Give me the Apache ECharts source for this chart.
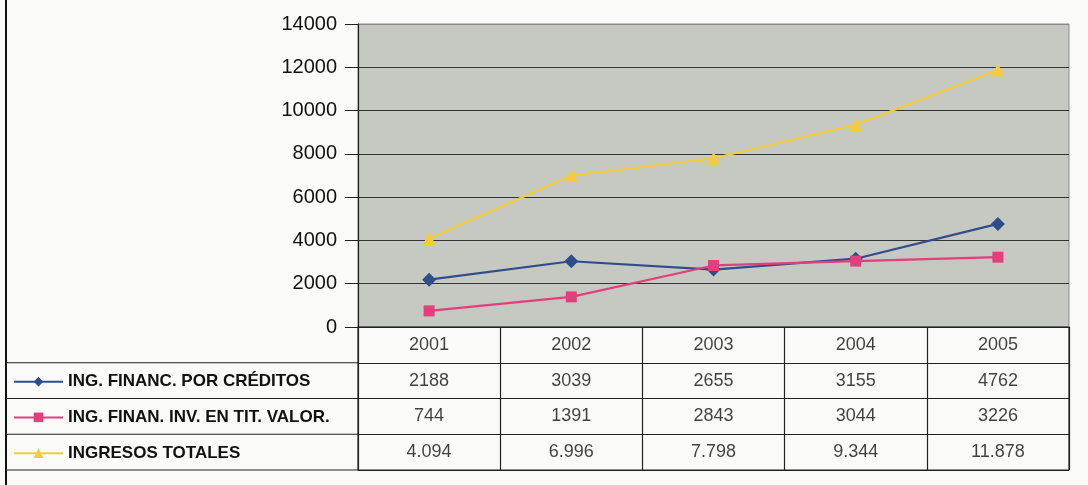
<!DOCTYPE html>
<html>
<head>
<meta charset="utf-8">
<script src="https://cdn.jsdelivr.net/npm/echarts@6/dist/echarts.min.js"></script>
<style>
html,body{margin:0;padding:0;background:#fafaf8;}
#chart{width:1088px;height:485px;}
</style>
</head>
<body>
<div id="chart"></div>
<script>
var years = ['2001', '2002', '2003', '2004', '2005'];
var seriesNames = ['ING. FINANC. POR CRÉDITOS', 'ING. FINAN. INV. EN TIT. VALOR.', 'INGRESOS TOTALES'];
var creditos = [2188, 3039, 2655, 3155, 4762];
var inversiones = [744, 1391, 2843, 3044, 3226];
var totales = [4094, 6996, 7798, 9344, 11878];
var yTicks = [0, 2000, 4000, 6000, 8000, 10000, 12000, 14000];
var tableRows = ['year', 'creditos', 'inversiones', 'totales'];

var FONT = 'Arial, "Liberation Sans", sans-serif';
var colors = ['#2f4d8c', '#e23f7c', '#f3cb3c'];

function fmtDot(v) {
  return String(v).replace(/\B(?=(\d{3})+(?!\d))/g, '.');
}

var rowValues = [years, creditos.map(String), inversiones.map(String), totales.map(fmtDot)];

var tableSeries = rowValues.map(function (vals, r) {
  return {
    name: 'tabla_' + tableRows[r],
    type: 'scatter',
    xAxisIndex: 1,
    yAxisIndex: 1,
    symbolSize: 0,
    silent: true,
    data: vals.map(function (v, i) { return [years[i], tableRows[r], v]; }),
    label: {
      show: true,
      position: 'inside',
      fontFamily: FONT,
      fontSize: 18,
      color: '#111',
      formatter: function (p) { return p.data[2]; }
    }
  };
});

// legend rows: one legend per table row, centred in the row
var rowTop = 327, rowH = 143 / 4;
var legends = seriesNames.map(function (n, i) {
  return {
    data: [n],
    orient: 'vertical',
    left: 13,
    padding: 0,
    top: rowTop + rowH * (i + 1) + rowH / 2 - 9,
    itemWidth: 49,
    itemHeight: 12,
    itemGap: 5,
    textStyle: { fontFamily: FONT, fontSize: 17, fontWeight: 'bold', color: '#111', lineHeight: 20 }
  };
});

var chart = echarts.init(document.getElementById('chart'));
var option = {
  backgroundColor: '#fafaf8',
  animation: false,
  grid: [
    { left: 358, top: 24, width: 711, height: 303, show: true, backgroundColor: '#c6c9c1', borderColor: '#8a8a88', borderWidth: 1 },
    { left: 358, top: 327, width: 711, height: 143, show: true, backgroundColor: 'transparent', borderColor: '#222', borderWidth: 1.2 }
  ],
  legend: legends,
  xAxis: [
    {
      gridIndex: 0, type: 'category', data: years, boundaryGap: true,
      axisLine: { show: true, lineStyle: { color: '#222', width: 1.2 } },
      axisTick: { show: false }, axisLabel: { show: false }, splitLine: { show: false }
    },
    {
      gridIndex: 1, type: 'category', data: years, boundaryGap: true,
      axisLine: { show: false }, axisTick: { show: false }, axisLabel: { show: false },
      splitLine: { show: true, interval: 0, lineStyle: { color: '#222', width: 1.2 } }
    }
  ],
  yAxis: [
    {
      gridIndex: 0, type: 'value', min: yTicks[0], max: yTicks[yTicks.length - 1], interval: yTicks[1] - yTicks[0],
      axisLine: { show: true, lineStyle: { color: '#222', width: 1.2 } },
      axisTick: { show: true, inside: false, length: 13, lineStyle: { color: '#222' } },
      axisLabel: { fontFamily: FONT, fontSize: 20, color: '#111', margin: 21, formatter: function (v) { return String(v); } },
      splitLine: { show: true, lineStyle: { color: ['#333', '#333', '#333', '#333', '#333', '#333', '#333', '#8a8a88'], width: 1.2 } }
    },
    {
      gridIndex: 1, type: 'category', data: tableRows, inverse: true, boundaryGap: true,
      axisLine: { show: false }, axisTick: { show: false }, axisLabel: { show: false },
      splitLine: { show: true, interval: 0, lineStyle: { color: '#222', width: 1.2 } }
    }
  ],
  series: [
    {
      name: seriesNames[0], type: 'line', data: creditos,
      symbol: 'diamond', symbolSize: 14, color: colors[0],
      lineStyle: { width: 2.2, color: colors[0] }, itemStyle: { color: colors[0] }
    },
    {
      name: seriesNames[1], type: 'line', data: inversiones,
      symbol: 'rect', symbolSize: 11, color: colors[1],
      lineStyle: { width: 2.2, color: colors[1] }, itemStyle: { color: colors[1] }
    },
    {
      name: seriesNames[2], type: 'line', data: totales,
      symbol: 'triangle', symbolSize: 13, color: colors[2],
      lineStyle: { width: 2.2, color: colors[2] }, itemStyle: { color: colors[2] }
    }
  ].concat(tableSeries),
  graphic: [
    { type: 'line', shape: { x1: 6, y1: 0, x2: 6, y2: 485 }, style: { stroke: '#111', lineWidth: 2 } },
    { type: 'line', shape: { x1: 6, y1: 362.75, x2: 358, y2: 362.75 }, style: { stroke: '#222', lineWidth: 1.2 } },
    { type: 'line', shape: { x1: 6, y1: 398.5, x2: 358, y2: 398.5 }, style: { stroke: '#222', lineWidth: 1.2 } },
    { type: 'line', shape: { x1: 6, y1: 434.25, x2: 358, y2: 434.25 }, style: { stroke: '#222', lineWidth: 1.2 } },
    { type: 'line', shape: { x1: 6, y1: 470, x2: 358, y2: 470 }, style: { stroke: '#222', lineWidth: 1.2 } }
  ]
};
chart.setOption(option);
</script>
</body>
</html>
